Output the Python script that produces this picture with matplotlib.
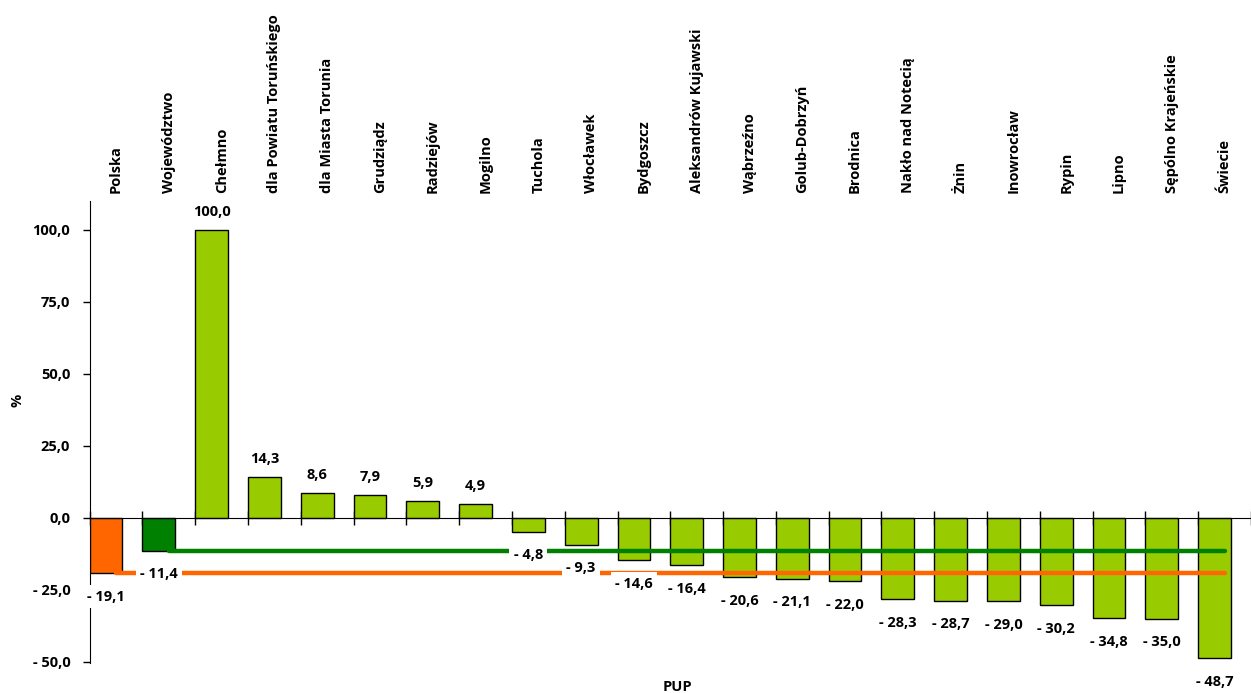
import matplotlib
matplotlib.use("Agg")
import matplotlib.pyplot as plt
import numpy as np

categories = ["Polska", "Województwo", "Chełmno", "dla Powiatu Toruńskiego",
              "dla Miasta Torunia", "Grudziądz", "Radziejów", "Mogilno", "Tuchola",
              "Włocławek", "Bydgoszcz", "Aleksandrów Kujawski", "Wąbrzeźno",
              "Golub-Dobrzyń", "Brodnica", "Nakło nad Notecią", "Żnin", "Inowrocław",
              "Rypin", "Lipno", "Sępólno Krajeńskie", "Świecie"]
values = [-19.1, -11.4, 100.0, 14.3, 8.6, 7.9, 5.9, 4.9, -4.8, -9.3, -14.6, -16.4,
          -20.6, -21.1, -22.0, -28.3, -28.7, -29.0, -30.2, -34.8, -35.0, -48.7]
y_ticks = [-50, -25, 0, 25, 50, 75, 100]

polska_ref = values[0]
woj_ref = values[1]

plt.rcParams['font.family'] = ['Open Sans', 'DejaVu Sans']
plt.rcParams['font.weight'] = 'bold'
FS = 10.5

fig = plt.figure(figsize=(12.51, 6.93), dpi=100)
left = 89.7 / 1251
bottom = 1 - 663.4 / 693
top = 1 - 201.2 / 693
ax = fig.add_axes([left, bottom, 1 - left, top - bottom])

n = len(categories)
x = np.arange(n)
bw = 0.62
colors = ["#FF6600", "#008000"] + ["#99CC00"] * (n - 2)
ax.bar(x, values, width=bw, align='edge', color=colors, edgecolor='black',
       linewidth=1.0, zorder=2)

centers = x + 0.5
ax.plot(centers[1:], [woj_ref] * (n - 1), color="#008000", lw=3.2,
        solid_capstyle='round', zorder=3)
ax.plot(centers, [polska_ref] * n, color="#FF6600", lw=3.2,
        solid_capstyle='round', zorder=3)

def fmt(v):
    s = f"{abs(v):.1f}".replace('.', ',')
    return ("- " + s) if v < 0 else s

for xi, v in zip(x, values):
    if v >= 0:
        ax.annotate(fmt(v), (xi + bw / 2, v), xytext=(0, 13), textcoords='offset points',
                    ha='center', va='center', fontsize=FS, fontweight='bold', zorder=5,
                    annotation_clip=False)
    else:
        ax.annotate(fmt(v), (xi + bw / 2, v), xytext=(0, -17), textcoords='offset points',
                    ha='center', va='center', fontsize=FS, fontweight='bold', zorder=5,
                    annotation_clip=False,
                    bbox=dict(boxstyle='square,pad=0.3', fc='white', ec='none'))

ax.set_xlim(0, (1251 - 89.7) / 53.2)
ax.set_ylim(-50.5, 110)
ax.set_yticks(y_ticks)
ax.set_yticklabels([fmt(float(t)) for t in y_ticks], fontsize=FS, fontweight='bold')
ax.tick_params(axis='y', direction='out', length=5, width=1, pad=9)

ax.spines['top'].set_visible(False)
ax.spines['right'].set_visible(False)
ax.spines['bottom'].set_position(('data', 0))
ax.spines['left'].set_zorder(1)
ax.set_xticks(np.arange(n + 1))
ax.set_xticklabels([])
ax.tick_params(axis='x', direction='inout', length=10, width=1)

for c, name in zip(centers, categories):
    ax.annotate(name, xy=(c, 1), xycoords=('data', 'axes fraction'),
                xytext=(0, 6), textcoords='offset points', rotation=90,
                ha='center', va='bottom', fontsize=FS, fontweight='bold',
                annotation_clip=False)

fig.text(17 / 1251, 1 - 400 / 693, "%", rotation=90, ha='center', va='center',
         fontsize=FS, fontweight='bold')
fig.text(677 / 1251, 1 - 687 / 693, "PUP", ha='center', va='center',
         fontsize=FS, fontweight='bold')

fig.savefig("out.png", dpi=100)
